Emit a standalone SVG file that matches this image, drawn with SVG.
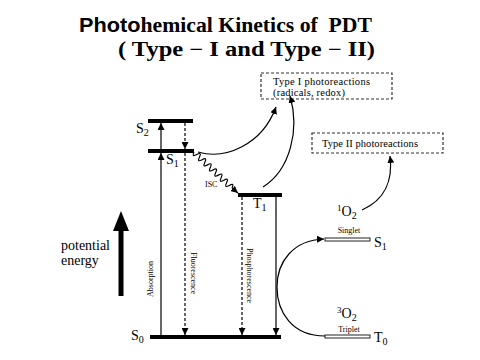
<svg xmlns="http://www.w3.org/2000/svg" width="480" height="360" viewBox="0 0 480 360">
<defs>
<marker id="ah" viewBox="0 0 10 10" refX="10" refY="5" markerWidth="7" markerHeight="7" markerUnits="userSpaceOnUse" orient="auto"><path d="M0,0 L10,5 L0,10 z" fill="#000"/></marker>
<style>
.lbl{font-family:"Liberation Serif","Times New Roman",serif;fill:#000}
.lvl{fill:#000}
.ln{stroke:#000;stroke-width:1.2;fill:none}
.dash{stroke:#000;stroke-width:1.2;fill:none;stroke-dasharray:3,2}
.box{fill:none;stroke:#333;stroke-width:1.2;stroke-dasharray:3,2}
.o2{fill:#fff;stroke:#222;stroke-width:1}
</style>
</defs>
<rect width="480" height="360" fill="#fff"/>
<g id="title">
<text x="79" y="32" font-size="20" font-weight="bold" class="lbl" textLength="293" lengthAdjust="spacingAndGlyphs" xml:space="preserve"><tspan font-family="Liberation Sans, Arial, sans-serif">Photo</tspan>hemical Kinetics of  PDT</text>
<text x="118" y="56" font-size="20" font-weight="bold" class="lbl" textLength="257" lengthAdjust="spacingAndGlyphs">( Type − I and Type − II)</text>
</g>
<g id="S2"><rect class="lvl" x="148" y="119" width="45" height="4"/><text class="lbl" x="136" y="133" font-size="14">S<tspan font-size="10" dy="3">2</tspan></text></g>
<g id="S1"><rect class="lvl" x="148" y="149" width="46" height="4"/><text class="lbl" x="166" y="164" font-size="14">S<tspan font-size="10" dy="3">1</tspan></text></g>
<g id="T1"><rect class="lvl" x="238" y="193" width="44" height="4"/><text class="lbl" x="253" y="208" font-size="14">T<tspan font-size="10" dy="3">1</tspan></text></g>
<g id="S0"><rect class="lvl" x="150" y="335" width="131" height="4"/><text class="lbl" x="131" y="340" font-size="14">S<tspan font-size="10" dy="3">0</tspan></text></g>
<g id="typeI"><rect class="box" x="261" y="73" width="131" height="26"/><text class="lbl" x="273" y="85" font-size="10.5" textLength="97">Type I photoreactions</text><text class="lbl" x="273" y="96" font-size="10.5" textLength="72">(radicals, redox)</text></g>
<g id="typeII"><rect class="box" x="312" y="133" width="131" height="20"/><text class="lbl" x="322" y="147" font-size="10.5" textLength="96">Type II photoreactions</text></g>
<g id="O2singlet"><text class="lbl" x="337" y="216" font-size="14"><tspan font-size="9" dy="-5">1</tspan><tspan dy="5">O</tspan><tspan font-size="10" dy="3">2</tspan></text><text class="lbl" x="349" y="233" font-size="8" text-anchor="middle">Singlet</text><rect class="o2" x="325" y="238" width="45" height="3"/><text class="lbl" x="374" y="247" font-size="14">S<tspan font-size="10" dy="3">1</tspan></text></g>
<g id="O2triplet"><text class="lbl" x="337" y="318" font-size="14"><tspan font-size="9" dy="-5">3</tspan><tspan dy="5">O</tspan><tspan font-size="10" dy="3">2</tspan></text><text class="lbl" x="349" y="332" font-size="8" text-anchor="middle">Triplet</text><rect class="o2" x="325" y="335" width="45" height="3"/><text class="lbl" x="374" y="342" font-size="14">T<tspan font-size="10" dy="3">0</tspan></text></g>
<g id="energy"><text class="lbl" x="61" y="250" font-size="14">potential</text><text class="lbl" x="61" y="265" font-size="14">energy</text><path d="M118.5,296 L118.5,231 L113,231 L121,211 L129,231 L123.5,231 L123.5,296 z" fill="#000"/></g>
<g id="connectors">
<line class="ln" x1="161" y1="335" x2="161" y2="153" marker-end="url(#ah)"/>
<line class="ln" x1="161" y1="149" x2="161" y2="123" marker-end="url(#ah)"/>
<line class="dash" x1="185" y1="123" x2="185" y2="149" marker-end="url(#ah)"/>
<line class="dash" x1="185" y1="153" x2="185" y2="335" marker-end="url(#ah)"/>
<line class="dash" x1="242" y1="197" x2="242" y2="335" marker-end="url(#ah)"/>
<line class="ln" x1="276" y1="197" x2="276" y2="335" marker-end="url(#ah)"/>
<path class="ln" d="M194,152 q-2.77,5.64 2.714,2.571 t2.714,2.571 t2.714,2.571 t2.714,2.571 t2.714,2.571 t2.714,2.571 t2.714,2.571 t2.714,2.571 t2.714,2.571 t2.714,2.571 t2.714,2.571 t2.714,2.571 t2.714,2.571 t2.714,2.571"/>
<line class="ln" x1="232" y1="188" x2="238" y2="193" marker-end="url(#ah)"/>
<path class="ln" d="M198,152 C225,160 262,145 276,107" marker-end="url(#ah)"/>
<path class="ln" d="M263,187 C290,170 300,130 290,96" marker-end="url(#ah)"/>
<path class="ln" d="M362,210 C385,200 393,180 390,156" marker-end="url(#ah)"/>
<path class="ln" d="M325,336 C292,336 277,312 277,287 C277,262 293,240 324,239" marker-end="url(#ah)"/>
<text class="lbl" x="205" y="187" font-size="8">ISC</text>
<text class="lbl" font-size="8" transform="translate(153,297) rotate(-90)">Absorption</text>
<text class="lbl" font-size="8" transform="translate(191,252) rotate(90)">Fluorescence</text>
<text class="lbl" font-size="8" transform="translate(247,248) rotate(90)">Phosphorescence</text>
</g>
</svg>
